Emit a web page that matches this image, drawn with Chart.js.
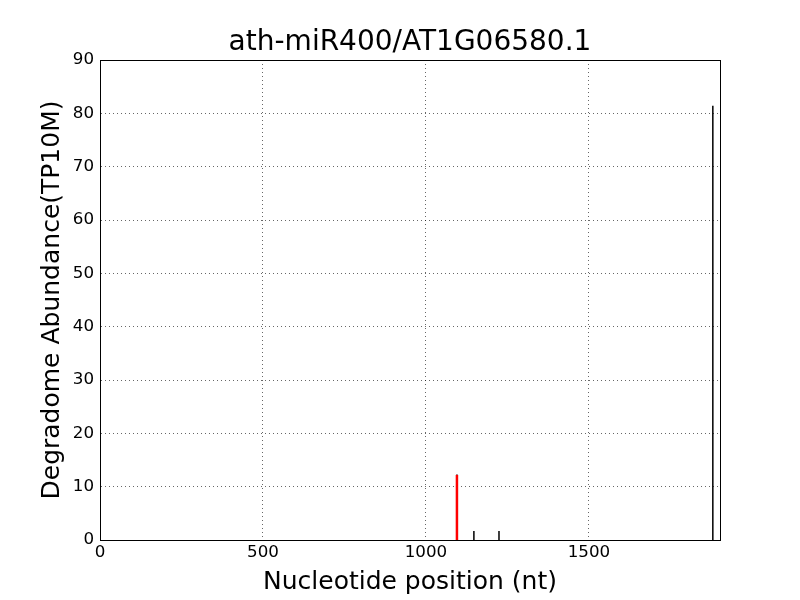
<!DOCTYPE html>
<html>
<head>
<meta charset="utf-8">
<script src="https://cdn.jsdelivr.net/npm/chart.js@4/dist/chart.umd.min.js"></script>
<style>
  html, body { margin: 0; padding: 0; background: #fff; }
  #wrap { width: 800px; height: 600px; }
</style>
</head>
<body>
<div id="wrap"><canvas id="stemChart"></canvas></div>
<script>
// degradome reads: position (nt) and abundance (TP10M)
const positions = [1095, 1147, 1224, 1880];
const abundance = [12.3, 1.7, 1.7, 81.4];
// predicted cleavage site (drawn in red)
const sitePos = [1095];
const siteVal = [12.2];
const xTicks = [0, 500, 1000, 1500];
const yTicks = [0, 10, 20, 30, 40, 50, 60, 70, 80, 90];

function stems(xs, ys) {
    const pts = [];
    xs.forEach((x, i) => {
        pts.push({x: x, y: 0}, {x: x, y: ys[i]}, {x: x, y: null});
    });
    return pts;
}

const font = 'DejaVu Sans';

const boxPlugin = {
    id: 'box',
    afterDraw(chart) {
        const a = chart.chartArea;
        const c = chart.ctx;
        c.save();
        c.strokeStyle = '#000';
        c.lineWidth = 1;
        c.strokeRect(Math.round(a.left) + 0.5, Math.round(a.top) + 0.5,
            Math.round(a.right - a.left), Math.round(a.bottom - a.top));
        c.restore();
    }
};

const ctx = document.getElementById('stemChart').getContext('2d');
new Chart(ctx, {
    type: 'line',
    data: {
        datasets: [{
            data: stems(positions, abundance),
            borderColor: '#000',
            borderWidth: 1.5,
            pointRadius: 0,
            spanGaps: false,
            order: 2
        }, {
            data: stems(sitePos, siteVal),
            borderColor: '#ff0000',
            borderWidth: 2.5,
            pointRadius: 0,
            spanGaps: false,
            order: 1
        }]
    },
    options: {
        responsive: true,
        maintainAspectRatio: false,
        animation: false,
        layout: { padding: { right: 80, left: 0, top: 0, bottom: 0 } },
        plugins: {
            legend: { display: false },
            tooltip: { enabled: false },
            title: {
                display: true,
                fullSize: false,
                text: 'ath-miR400/AT1G06580.1',
                color: '#000',
                font: { family: font, size: 28, weight: 'normal' },
                padding: { top: 26.4, bottom: 0 }
            }
        },
        scales: {
            x: {
                type: 'linear',
                min: 0,
                max: 1902,
                afterBuildTicks: s => { s.ticks = xTicks.map(v => ({value: v})); },
                afterFit: s => { s.height = 60; },
                ticks: { color: '#000', font: { family: font, size: 16.7 }, padding: 3, maxRotation: 0, callback: v => String(v) },
                grid: { color: '#000', lineWidth: 0.6, drawTicks: false },
                border: { color: '#000', dash: [1, 3] },
                title: {
                    display: true,
                    text: 'Nucleotide position (nt)',
                    color: '#000',
                    font: { family: font, size: 25 },
                    padding: { top: 0, bottom: 3 }
                }
            },
            y: {
                min: 0,
                max: 90,
                afterBuildTicks: s => { s.ticks = yTicks.map(v => ({value: v})); },
                afterFit: s => { s.width = 100; },
                ticks: { color: '#000', font: { family: font, size: 16.7 }, padding: 6, callback: v => String(v) },
                grid: { color: '#000', lineWidth: 0.6, drawTicks: false },
                border: { color: '#000', dash: [1, 3] },
                title: {
                    display: true,
                    text: 'Degradome Abundance(TP10M)',
                    color: '#000',
                    font: { family: font, size: 25 },
                    padding: { top: 37, bottom: 0 }
                }
            }
        }
    },
    plugins: [boxPlugin]
});
</script>
</body>
</html>
